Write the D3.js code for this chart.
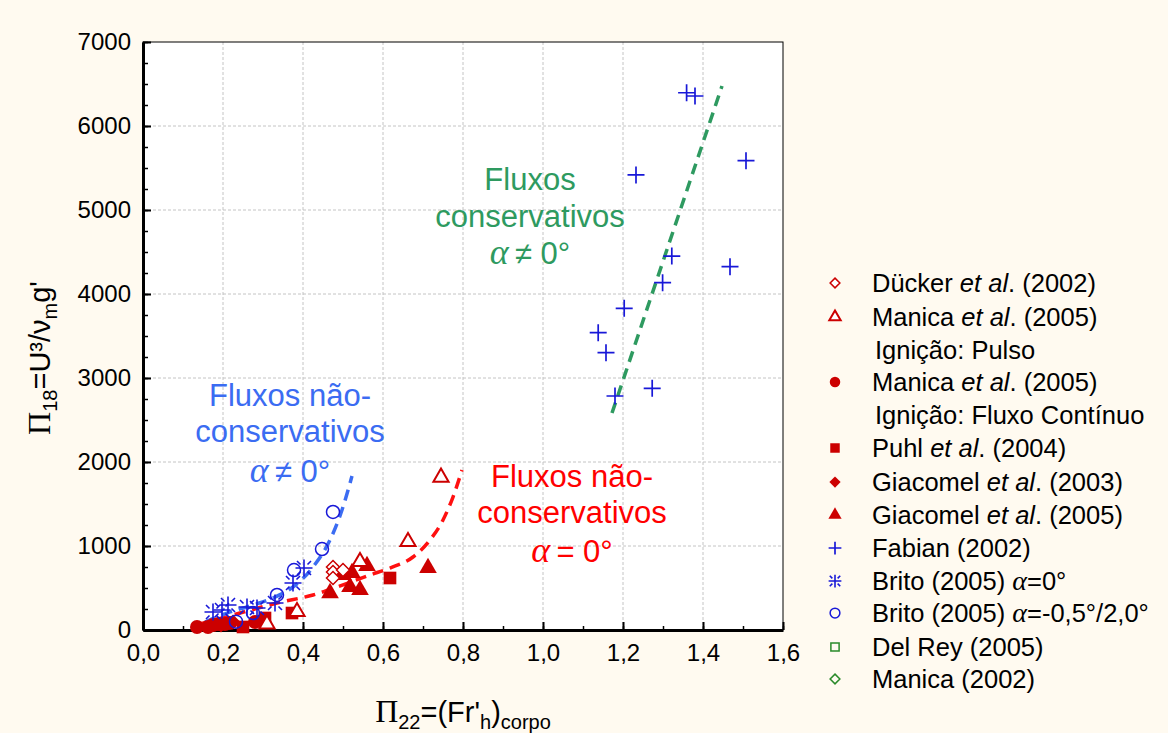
<!DOCTYPE html>
<html><head><meta charset="utf-8">
<script src="https://cdn.jsdelivr.net/npm/d3@7"></script>
<style>
html,body{margin:0;padding:0;background:#fffaf0;}
svg{display:block;}
text{font-family:"Liberation Sans",Arial,sans-serif;}
</style></head>
<body>
<svg id="chart" width="1168" height="733"></svg>
<script>
// ---------- data ----------
const xTicks = [0,0.2,0.4,0.6,0.8,1.0,1.2,1.4,1.6];
const yTicks = [0,1000,2000,3000,4000,5000,6000,7000];

const duckerX = [0.475,0.475,0.475,0.50];
const duckerY = [750,690,619,714];
const manicaPulsoX = [0.31,0.385,0.5425,0.6625,0.745];
const manicaPulsoY = [71,218,813,1051,1818];
const manicaContX = [0.135,0.1625,0.175,0.1875,0.205,0.2175,0.28,0.2975];
const manicaContY = [36,36,60,71,71,83,95,107];
const puhlX = [0.25,0.305,0.3725,0.6175];
const puhlY = [36,143,202,619];
const giacomel03X = [0.195,0.225];
const giacomel03Y = [60,95];
const giacomel05X = [0.4675,0.50,0.5225,0.56,0.5175,0.5425,0.7125];
const giacomel05Y = [440,655,679,762,512,476,738];
const fabianX = [1.359,1.38,1.5075,1.2325,1.322,1.4675,1.299,1.203,1.138,1.1575,1.18,1.273];
const fabianY = [6396,6357,5587,5417,4452,4325,4135,3829,3540,3301,2786,2877];
const brito0X = [0.175,0.1975,0.2125,0.26,0.285,0.33,0.375,0.4025];
const brito0Y = [214,238,298,274,262,321,560,738];
const britoAX = [0.2325,0.275,0.335,0.3775,0.4475,0.475];
const britoAY = [99,202,417,714,964,1405];

// trend curves
const blueCurveX = [0.155,0.21,0.2675,0.325,0.375,0.425,0.4675,0.4975,0.5225];
const blueCurveY = [95,202,286,381,512,750,1071,1429,1833];
const redCurveX = [0.1425,0.2425,0.335,0.425,0.485,0.5675,0.6175,0.675,0.7175,0.75,0.775,0.7975];
const redCurveY = [71,202,321,417,512,655,738,869,1071,1310,1583,1905];
const greenLineX = [1.1725,1.4475];
const greenLineY = [2583,6476];

const legendLabels = [
  ["Dücker ","et al",". (2002)"],
  ["Manica ","et al",". (2005)"],
  ["Ignição: Pulso"],
  ["Manica ","et al",". (2005)"],
  ["Ignição: Fluxo Contínuo"],
  ["Puhl ","et al",". (2004)"],
  ["Giacomel ","et al",". (2003)"],
  ["Giacomel ","et al",". (2005)"],
  ["Fabian (2002)"],
  ["Brito (2005) ","α","=0°"],
  ["Brito (2005) ","α","=-0,5°/2,0°"],
  ["Del Rey (2005)"],
  ["Manica (2002)"]
];
const legendSymbols = ["diamondOpen","triangleOpen",null,"circleFilled",null,"squareFilled","diamondFilled","triangleFilled","plus","asterisk","circleOpen","squareOpenGreen","diamondOpenGreen"];

// ---------- layout ----------
const svg = d3.select("#chart");
const M = {l:143, r:783, t:42, b:630};
const x = d3.scaleLinear().domain([0,1.6]).range([M.l,M.r]);
const y = d3.scaleLinear().domain([0,7000]).range([M.b,M.t]);
const RED = "#cc0000", BLUE = "#1818d8", GREEN = "#2a8a2a";

svg.append("rect").attr("x",M.l).attr("y",M.t).attr("width",M.r-M.l).attr("height",M.b-M.t)
  .attr("fill","#ffffff");

// grid
const grid = svg.append("g");
xTicks.filter(v=>v>0&&v<1.6).forEach(v=>{
  grid.append("line").attr("x1",x(v)).attr("x2",x(v)).attr("y1",M.t).attr("y2",M.b)
   .attr("stroke","#c4c4c4").attr("stroke-width",1).attr("stroke-dasharray","3,2");
});
yTicks.filter(v=>v>0&&v<7000).forEach(v=>{
  grid.append("line").attr("y1",y(v)).attr("y2",y(v)).attr("x1",M.l).attr("x2",M.r)
   .attr("stroke","#c4c4c4").attr("stroke-width",1).attr("stroke-dasharray","3,2");
});

// frame
svg.append("rect").attr("x",M.l).attr("y",M.t).attr("width",M.r-M.l).attr("height",M.b-M.t)
  .attr("fill","none").attr("stroke","#000").attr("stroke-width",1);

const loc = d3.formatLocale({decimal:",",thousands:".",grouping:[3],currency:["",""]});
const fx = loc.format(".1f");

// minor ticks
const xMinor = d3.range(0,1.61,0.1);
const yMinor = d3.range(0,7001,250);
svg.append("g").attr("transform",`translate(0,${M.b})`)
  .call(d3.axisBottom(x).tickValues(xMinor).tickSize(-4).tickFormat(""))
  .call(g=>g.select(".domain").remove())
  .call(g=>g.selectAll("line").attr("stroke-width",1.5));
svg.append("g").attr("transform",`translate(${M.l},0)`)
  .call(d3.axisLeft(y).tickValues(yMinor).tickSize(-5).tickFormat(""))
  .call(g=>g.select(".domain").remove())
  .call(g=>g.selectAll("line").attr("stroke-width",1.5));

// major axes
const xAxis = svg.append("g").attr("transform",`translate(0,${M.b})`)
  .call(d3.axisBottom(x).tickValues(xTicks).tickSize(-8).tickPadding(14).tickFormat(fx).tickSizeOuter(0));
xAxis.select(".domain").attr("stroke-width",3);
xAxis.selectAll("line").attr("stroke-width",2);
xAxis.selectAll("text").attr("font-size",24).attr("font-family","Liberation Sans").attr("fill","#000");

const yAxis = svg.append("g").attr("transform",`translate(${M.l},0)`)
  .call(d3.axisLeft(y).tickValues(yTicks).tickSize(-8).tickPadding(12).tickFormat(d3.format("d")).tickSizeOuter(0));
yAxis.select(".domain").attr("stroke-width",3);
yAxis.selectAll("line").attr("stroke-width",2);
yAxis.selectAll("text").attr("font-size",24).attr("font-family","Liberation Sans").attr("fill","#000");

// ---------- trend lines ----------
const line = d3.line().x(d=>x(d[0])).y(d=>y(d[1])).curve(d3.curveMonotoneX);
svg.append("path").datum(d3.zip(redCurveX,redCurveY)).attr("d",line)
  .attr("fill","none").attr("stroke","#ff1010").attr("stroke-width",3.5).attr("stroke-dasharray","11,7");
svg.append("path").datum(d3.zip(blueCurveX,blueCurveY)).attr("d",line)
  .attr("fill","none").attr("stroke","#3b6cf2").attr("stroke-width",3.5).attr("stroke-dasharray","11,7");
svg.append("path").datum(d3.zip(greenLineX,greenLineY)).attr("d",d3.line().x(d=>x(d[0])).y(d=>y(d[1])))
  .attr("fill","none").attr("stroke","#2e9a60").attr("stroke-width",3.5).attr("stroke-dasharray","11,7");

// ---------- markers ----------
function diamondPath(cx,cy,h){ return `M${cx},${cy-h}L${cx+h},${cy}L${cx},${cy+h}L${cx-h},${cy}Z`; }
function drawSymbol(g, type, cx, cy, scale){
  const s = scale||1;
  const sym = (t,size)=>d3.symbol().type(t).size(size*s*s)();
  const tr = `translate(${cx},${cy})`;
  switch(type){
    case "diamondOpen":
      g.append("path").attr("d",diamondPath(cx,cy,6.5*s)).attr("fill","#fff").attr("stroke",RED).attr("stroke-width",1.5); break;
    case "diamondOpenGreen":
      g.append("path").attr("d",diamondPath(cx,cy,6.5*s)).attr("fill","none").attr("stroke",GREEN).attr("stroke-width",1.5); break;
    case "diamondFilled":
      g.append("path").attr("d",diamondPath(cx,cy,7.5*s)).attr("fill",RED); break;
    case "triangleOpen":
      g.append("path").attr("d",sym(d3.symbolTriangle,100)).attr("transform",tr).attr("fill","#fff").attr("stroke",RED).attr("stroke-width",2); break;
    case "triangleFilled":
      g.append("path").attr("d",sym(d3.symbolTriangle,135)).attr("transform",tr).attr("fill",RED); break;
    case "circleFilled":
      g.append("circle").attr("cx",cx).attr("cy",cy).attr("r",7*s).attr("fill",RED); break;
    case "circleOpen":
      g.append("circle").attr("cx",cx).attr("cy",cy).attr("r",6.5*s).attr("fill","none").attr("stroke",BLUE).attr("stroke-width",1.5); break;
    case "squareFilled":
      g.append("path").attr("d",sym(d3.symbolSquare,160)).attr("transform",tr).attr("fill",RED); break;
    case "squareOpenGreen":
      g.append("path").attr("d",sym(d3.symbolSquare,120)).attr("transform",tr).attr("fill","none").attr("stroke",GREEN).attr("stroke-width",1.5); break;
    case "plus": {
      const h = 8.5*s;
      g.append("path").attr("d",`M${cx-h},${cy}H${cx+h}M${cx},${cy-h}V${cy+h}`)
        .attr("stroke",BLUE).attr("stroke-width",1.7).attr("fill","none"); break;
    }
    case "asterisk": {
      const h = 8.5*s, a = 3.5*s, b = 7*s;
      let d = `M${cx-h},${cy}H${cx+h}M${cx},${cy-h}V${cy+h}`;
      [[1,1],[1,-1],[-1,1],[-1,-1]].forEach(([sx,sy])=>{
        d += `M${cx+sx*a},${cy+sy*a}L${cx+sx*b},${cy+sy*b}`;
      });
      g.append("path").attr("d",d).attr("stroke",BLUE).attr("stroke-width",1.6).attr("fill","none"); break;
    }
  }
}
const pts = svg.append("g");
const series = [
  ["squareFilled",puhlX,puhlY],
  ["circleFilled",manicaContX,manicaContY],
  ["diamondFilled",giacomel03X,giacomel03Y],
  ["triangleFilled",giacomel05X,giacomel05Y],
  ["diamondOpen",duckerX,duckerY],
  ["triangleOpen",manicaPulsoX,manicaPulsoY],
  ["circleOpen",britoAX,britoAY],
  ["asterisk",brito0X,brito0Y],
  ["plus",fabianX,fabianY]
];
series.forEach(([t,xs,ys])=>{
  xs.forEach((v,i)=>drawSymbol(pts,t,x(v),y(ys[i]),1));
});

// ---------- annotations ----------
function annot(cx, baselines, lines, color, alphaSign){
  const g = svg.append("g").attr("fill",color);
  lines.forEach((t,i)=>{
    g.append("text").attr("x",cx).attr("y",baselines[i]).attr("text-anchor","middle")
      .attr("font-size",31).text(t);
  });
  const t = g.append("text").attr("x",cx).attr("y",baselines[2]).attr("text-anchor","middle").attr("font-size",31);
  t.append("tspan").attr("font-family","Liberation Serif").attr("font-style","italic").attr("font-size",36).text("α");
  t.append("tspan").text(alphaSign + " 0°");
}
annot(530,[190,227,264],["Fluxos","conservativos"],"#2e9a60","\u2009≠");
annot(290,[406,442,482],["Fluxos não-","conservativos"],"#3b6cf2","\u2009≠");
annot(572,[487,523,562],["Fluxos não-","conservativos"],"#ff0000","\u2009=");

// ---------- axis titles ----------
const xt = svg.append("text").attr("x",463).attr("y",722).attr("text-anchor","middle").attr("font-size",29).attr("fill","#000");
xt.append("tspan").attr("font-family","Liberation Serif").attr("font-size",32).text("Π");
xt.append("tspan").attr("font-size",20).attr("dy",7).text("22");
xt.append("tspan").attr("dy",-7).text("=(Fr'");
xt.append("tspan").attr("font-size",20).attr("dy",7).text("h");
xt.append("tspan").attr("dy",-7).text(")");
xt.append("tspan").attr("font-size",20).attr("dy",7).text("corpo");

const yt = svg.append("text").attr("transform","translate(50,358) rotate(-90)").attr("text-anchor","middle").attr("font-size",29).attr("fill","#000");
yt.append("tspan").attr("font-family","Liberation Serif").attr("font-size",32).text("Π");
yt.append("tspan").attr("font-size",20).attr("dy",7).text("18");
yt.append("tspan").attr("dy",-7).text("=U³/ν");
yt.append("tspan").attr("font-size",20).attr("dy",7).text("m");
yt.append("tspan").attr("dy",-7).text("g'");

// ---------- legend ----------
const lg = svg.append("g");
const rowY = [283,317,350,382,415,448,482,515,548,581,613,647,679];
legendLabels.forEach((parts,i)=>{
  const sym = legendSymbols[i];
  if(sym) drawSymbol(lg,sym,835,rowY[i],0.75);
  const t = lg.append("text").attr("x", sym?872:875).attr("y",rowY[i]+9).attr("font-size",25.5).attr("fill","#000");
  parts.forEach((p,j)=>{
    const sp = t.append("tspan").text(p);
    if(parts.length===3 && j===1){
      if(p==="α"){ sp.attr("font-family","Liberation Serif").attr("font-style","italic").attr("font-size",28); }
      else sp.attr("font-style","italic");
    }
  });
});
</script>
</body></html>
